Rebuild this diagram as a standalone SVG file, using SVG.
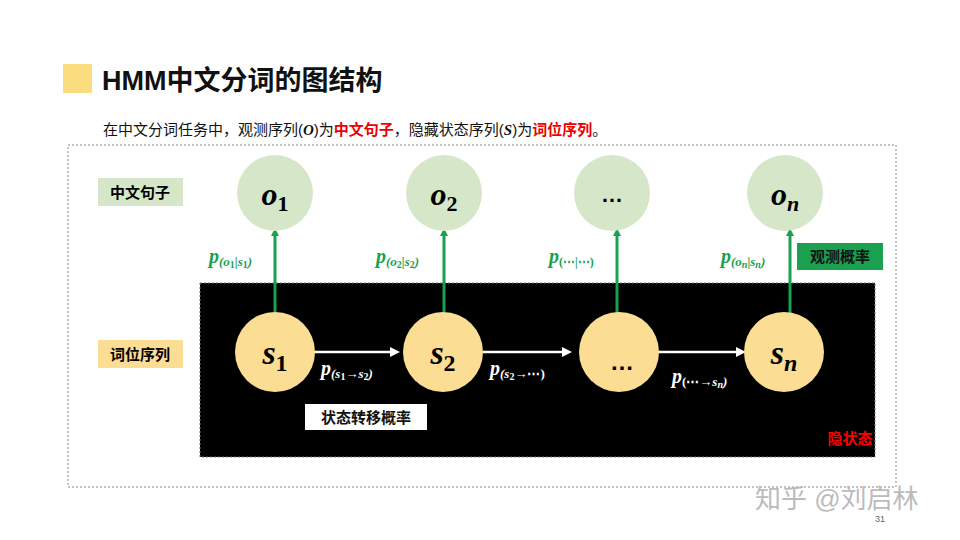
<svg xmlns="http://www.w3.org/2000/svg" width="960" height="540" viewBox="0 0 960 540">
<style>
.cjk{font-family:"Liberation Sans","Noto Sans CJK SC",sans-serif;font-weight:bold}
.m{font-family:"Liberation Serif","DejaVu Serif",serif;font-style:italic;font-weight:bold}
.obs{fill:#d5e7c8}
.st{fill:#fbdd93}
.ga{stroke:#1aa04e;stroke-width:3;marker-end:url(#g)}
.wa{stroke:#fff;stroke-width:2.5;marker-end:url(#w)}
.sub{font-size:10px}
</style>
<defs>
<marker id="g" markerWidth="8" markerHeight="8" refX="4" refY="4" orient="auto" markerUnits="userSpaceOnUse" viewBox="0 0 8 8"><path d="M0,0L8,4L0,8z" fill="#1aa04e"/></marker>
<marker id="w" markerWidth="10" markerHeight="10" refX="6" refY="5" orient="auto" markerUnits="userSpaceOnUse" viewBox="0 0 10 10"><path d="M0,0L10,5L0,10z" fill="#fff"/></marker>
</defs>
<rect width="960" height="540" fill="#fff"/>
<rect x="63" y="64" width="29" height="29" fill="#fbdd7f"/>
<text x="102" y="90" class="cjk" font-size="27" fill="#111">HMM中文分词的图结构</text>
<text x="103" y="135" font-size="15" fill="#111" font-family="Liberation Sans,Noto Sans CJK SC,sans-serif">在中文分词任务中，观测序列(<tspan class="m">O</tspan>)为<tspan fill="#e00" font-weight="bold">中文句子</tspan>，隐藏状态序列(<tspan class="m">S</tspan>)为<tspan fill="#e00" font-weight="bold">词位序列</tspan>。</text>
<rect x="68" y="145" width="828" height="342" fill="none" stroke="#888" stroke-dasharray="2,2"/>
<rect x="200" y="283" width="675" height="174" fill="#000" stroke="#777" stroke-dasharray="2,2"/>
<g id="lbl-sentence"><rect x="98" y="178" width="85" height="28" fill="#d5e7c8"/><text x="140" y="198" class="cjk" font-size="15" text-anchor="middle">中文句子</text></g>
<g id="lbl-pos"><rect x="98" y="340" width="85" height="28" fill="#fbdd93"/><text x="140" y="360" class="cjk" font-size="15" text-anchor="middle">词位序列</text></g>
<g id="lbl-obsprob"><rect x="797" y="243" width="86" height="27" fill="#1aa04e"/><text x="840" y="262" class="cjk" font-size="15" text-anchor="middle" fill="#111">观测概率</text></g>
<g id="lbl-trans"><rect x="305" y="404" width="122" height="26" fill="#fff"/><text x="366" y="423" class="cjk" font-size="15" text-anchor="middle" fill="#111">状态转移概率</text></g>
<g id="lbl-hidden"><text x="850" y="444" class="cjk" font-size="15" text-anchor="middle" fill="#f00">隐状态</text></g>
<g id="connectors">
<line class="ga" x1="275" y1="312" x2="275" y2="232"/>
<line class="ga" x1="444" y1="312" x2="444" y2="232"/>
<line class="ga" x1="617" y1="315" x2="617" y2="232"/>
<line class="ga" x1="790" y1="315" x2="790" y2="232"/>
<line class="wa" x1="314" y1="352" x2="396" y2="352"/>
<line class="wa" x1="483" y1="352" x2="568" y2="352"/>
<line class="wa" x1="658" y1="352" x2="742" y2="352"/>
<g class="m" fill="#1aa04e">
<text x="209" y="263" font-size="20">p<tspan font-size="13" dy="3">(o<tspan class="sub" dy="2" font-style="normal">1</tspan><tspan dy="-2">|s</tspan><tspan class="sub" dy="2" font-style="normal">1</tspan><tspan dy="-2">)</tspan></tspan></text>
<text x="376" y="263" font-size="20">p<tspan font-size="13" dy="3">(o<tspan class="sub" dy="2" font-style="normal">2</tspan><tspan dy="-2">|s</tspan><tspan class="sub" dy="2" font-style="normal">2</tspan><tspan dy="-2">)</tspan></tspan></text>
<text x="549" y="263" font-size="20">p<tspan font-size="12" dy="3" font-style="normal">(⋯|⋯)</tspan></text>
<text x="721" y="263" font-size="20">p<tspan font-size="13" dy="3">(o<tspan class="sub" dy="2">n</tspan><tspan dy="-2">|s</tspan><tspan class="sub" dy="2">n</tspan><tspan dy="-2">)</tspan></tspan></text>
</g>
<g class="m" fill="#fff">
<text x="321" y="375" font-size="20">p<tspan font-size="13" dy="3">(s<tspan class="sub" dy="2" font-style="normal">1</tspan><tspan dy="-2">→s</tspan><tspan class="sub" dy="2" font-style="normal">2</tspan><tspan dy="-2">)</tspan></tspan></text>
<text x="490" y="375" font-size="20">p<tspan font-size="13" dy="3">(s<tspan class="sub" dy="2" font-style="normal">2</tspan><tspan dy="-2" font-style="normal">→⋯)</tspan></tspan></text>
<text x="672" y="383" font-size="20">p<tspan font-size="13" dy="3"><tspan font-style="normal">(⋯→</tspan>s<tspan class="sub" dy="2">n</tspan><tspan dy="-2">)</tspan></tspan></text>
</g>
</g>
<g id="o1"><circle class="obs" cx="275" cy="193" r="38"/><text x="275" y="205" class="m" font-size="32" text-anchor="middle">o<tspan font-size="22" dy="6" font-style="normal">1</tspan></text></g>
<g id="o2"><circle class="obs" cx="444" cy="193" r="38"/><text x="444" y="205" class="m" font-size="32" text-anchor="middle">o<tspan font-size="22" dy="6" font-style="normal">2</tspan></text></g>
<g id="o3"><circle class="obs" cx="612" cy="193" r="38"/><text x="612" y="202" class="cjk" font-size="22" text-anchor="middle">…</text></g>
<g id="on"><circle class="obs" cx="785" cy="193" r="38"/><text x="785" y="205" class="m" font-size="32" text-anchor="middle">o<tspan font-size="22" dy="6">n</tspan></text></g>
<g id="s1"><circle class="st" cx="275" cy="352" r="40"/><text x="275" y="364" class="m" font-size="34" text-anchor="middle">s<tspan font-size="24" dy="7" font-style="normal">1</tspan></text></g>
<g id="s2"><circle class="st" cx="443" cy="352" r="40"/><text x="443" y="364" class="m" font-size="34" text-anchor="middle">s<tspan font-size="24" dy="7" font-style="normal">2</tspan></text></g>
<g id="s3"><circle class="st" cx="619" cy="352" r="40"/><text x="622" y="370" class="cjk" font-size="24" text-anchor="middle">…</text></g>
<g id="sn"><circle class="st" cx="784" cy="352" r="40"/><text x="784" y="364" class="m" font-size="34" text-anchor="middle">s<tspan font-size="24" dy="7">n</tspan></text></g>
<text x="755" y="508" font-size="26" fill="#bbb" font-family="Liberation Sans,Noto Sans CJK SC,sans-serif">知乎 @刘启林</text>
<text x="875" y="522" font-size="9" fill="#666" font-family="Liberation Sans,sans-serif">31</text>
</svg>
